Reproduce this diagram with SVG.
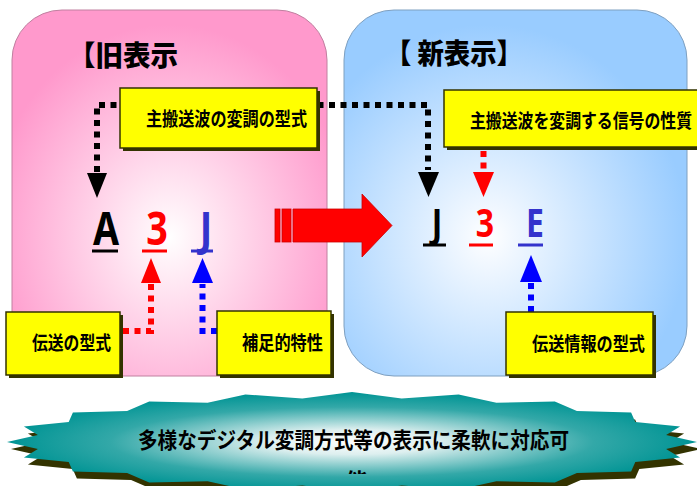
<svg xmlns="http://www.w3.org/2000/svg" width="697" height="486" viewBox="0 0 697 486">
<defs>
<radialGradient id="gPink" cx="0.5" cy="0.62" r="0.58">
<stop offset="0" stop-color="#FFFFFF"/>
<stop offset="0.12" stop-color="#FFF2F8"/>
<stop offset="1" stop-color="#FF99CC"/>
</radialGradient>
<radialGradient id="gBlue" cx="0.42" cy="0.62" r="0.58">
<stop offset="0" stop-color="#FFFFFF"/>
<stop offset="0.12" stop-color="#F2F8FF"/>
<stop offset="1" stop-color="#99CCFF"/>
</radialGradient>
<radialGradient id="gTeal" cx="0.5" cy="0.5" r="0.5">
<stop offset="0" stop-color="#FFFFFF"/>
<stop offset="0.25" stop-color="#DDEFEF"/>
<stop offset="0.7" stop-color="#33A8A8"/>
<stop offset="1" stop-color="#009494"/>
</radialGradient>
<clipPath id="clipNo"><rect x="0" y="0" width="697" height="474"/></clipPath>
<style>
.box{fill:#FFFF00;stroke:#333300;stroke-width:1.5}
.shadow{fill:#333300}
.lbl{font-family:"Noto Sans CJK JP","Noto Sans CJK SC",sans-serif;font-weight:700;font-size:19px;fill:#000}
.title{font-family:"Noto Sans CJK JP","Noto Sans CJK SC",sans-serif;font-weight:900;font-size:28px;fill:#000}
.big{font-family:"Noto Sans","DejaVu Sans",sans-serif;font-weight:700;text-anchor:middle}
.dot{fill:none;stroke-width:6;stroke-dasharray:6 5.5}
</style>
</defs>

<g id="panel-old">
<rect x="12" y="10" width="315" height="366" rx="50" ry="50" fill="url(#gPink)" stroke="#C080A0" stroke-width="1"/>
<text class="title" x="68" y="66" textLength="110" lengthAdjust="spacingAndGlyphs">【旧表示</text>
</g>

<g id="panel-new">
<rect x="344" y="10" width="343" height="366" rx="50" ry="50" fill="url(#gBlue)" stroke="#7FA0C0" stroke-width="1"/>
<text class="title" x="385" y="64" textLength="138" lengthAdjust="spacingAndGlyphs">【 新表示】</text>
</g>

<g id="big-arrow">
<rect x="275" y="209" width="5" height="33" fill="#FF0000" stroke="#CC0000" stroke-width="0.8"/>
<rect x="282" y="209" width="9" height="33" fill="#FF0000" stroke="#CC0000" stroke-width="0.8"/>
<polygon points="293,209 362,209 362,194 392,225.5 362,257 362,242 293,242" fill="#FF0000" stroke="#CC0000" stroke-width="0.8"/>
</g>

<g id="connectors">
<path class="dot" d="M97,172 V105 H428 V170" stroke="#000"/>
<polygon points="87,173 107,173 97,198" fill="#000"/>
<polygon points="418,172 439,172 428.5,197" fill="#000"/>
<path class="dot" d="M483.5,151 V171" stroke="#FF0000"/>
<polygon points="473,172 494,172 483.5,197" fill="#FF0000"/>
<path class="dot" d="M123,331 H151 V284" stroke="#FF0000"/>
<polygon points="141,283 161,283 151,258" fill="#FF0000"/>
<path class="dot" d="M217,331 H202.5 V284" stroke="#0000FF"/>
<polygon points="192,283 213,283 202.5,258" fill="#0000FF"/>
<path class="dot" d="M531,312 V283" stroke="#0000FF"/>
<polygon points="520,282 542,282 531,255" fill="#0000FF"/>
</g>

<g id="old-code">
<text class="big" transform="translate(106,245) scale(0.82,1)" font-size="46" fill="#000">A</text>
<rect x="92" y="249.5" width="26" height="3" fill="#000"/>
<text class="big" transform="translate(157,245) scale(0.82,1)" font-size="46" fill="#FF0000">3</text>
<rect x="142" y="249.5" width="25" height="3" fill="#FF0000"/>
<text class="big" transform="translate(206,245) scale(0.82,1)" font-size="46" fill="#3333CC">J</text>
<rect x="191" y="249.5" width="22" height="3" fill="#3333CC"/>
</g>

<g id="new-code">
<text class="big" transform="translate(437,237) scale(0.82,1)" font-size="39" fill="#000">J</text>
<rect x="423" y="243.5" width="23" height="3" fill="#000"/>
<text class="big" transform="translate(485,237) scale(0.82,1)" font-size="39" fill="#FF0000">3</text>
<rect x="469" y="243.5" width="24" height="3" fill="#FF0000"/>
<text class="big" transform="translate(535,237) scale(0.82,1)" font-size="39" fill="#3333CC">E</text>
<rect x="518" y="243.5" width="25" height="3" fill="#3333CC"/>
</g>

<g id="box-main-carrier">
<rect class="shadow" x="123" y="91" width="197" height="60"/>
<rect class="box" x="120" y="88" width="197" height="60"/>
<text class="lbl" x="146" y="126" textLength="161" lengthAdjust="spacingAndGlyphs">主搬送波の変調の型式</text>
</g>

<g id="box-signal-nature">
<rect class="shadow" x="447" y="93" width="260" height="57"/>
<rect class="box" x="444" y="90" width="260" height="57"/>
<text class="lbl" x="470" y="128" textLength="222" lengthAdjust="spacingAndGlyphs">主搬送波を変調する信号の性質</text>
</g>

<g id="box-transmission">
<rect class="shadow" x="9" y="315" width="114" height="63"/>
<rect class="box" x="6" y="312" width="114" height="63"/>
<text class="lbl" x="32" y="350" textLength="79" lengthAdjust="spacingAndGlyphs">伝送の型式</text>
</g>

<g id="box-supplementary">
<rect class="shadow" x="220" y="314" width="114" height="64"/>
<rect class="box" x="217" y="311" width="114" height="64"/>
<text class="lbl" x="242" y="350" textLength="81" lengthAdjust="spacingAndGlyphs">補足的特性</text>
</g>

<g id="box-info">
<rect class="shadow" x="509" y="315" width="147" height="63"/>
<rect class="box" x="506" y="312" width="147" height="63"/>
<text class="lbl" x="532" y="351" textLength="113" lengthAdjust="spacingAndGlyphs">伝送情報の型式</text>
</g>

<g id="starburst">
<polygon transform="translate(4,7)" fill="#333300" points="697,442 666.1,435.1 680.1,426.5 635.3,422 631.1,412.6 576.9,410.9 554.8,401.5 496.4,402.8 458.6,394.4 401.7,398.5 352,392 302.3,398.5 245.4,394.4 207.6,402.8 149.2,401.5 127.1,410.9 72.9,412.6 68.7,422 23.9,426.5 37.9,435.1 7,442 37.9,448.9 23.9,457.5 68.7,462 72.9,471.4 127.1,473.1 149.2,482.5 207.6,481.2 245.4,489.6 302.3,485.5 352,492 401.7,485.5 458.6,489.6 496.4,481.2 554.8,482.5 576.9,473.1 631.1,471.4 635.3,462 680.1,457.5 666.1,448.9"/>
<polygon fill="url(#gTeal)" points="697,442 666.1,435.1 680.1,426.5 635.3,422 631.1,412.6 576.9,410.9 554.8,401.5 496.4,402.8 458.6,394.4 401.7,398.5 352,392 302.3,398.5 245.4,394.4 207.6,402.8 149.2,401.5 127.1,410.9 72.9,412.6 68.7,422 23.9,426.5 37.9,435.1 7,442 37.9,448.9 23.9,457.5 68.7,462 72.9,471.4 127.1,473.1 149.2,482.5 207.6,481.2 245.4,489.6 302.3,485.5 352,492 401.7,485.5 458.6,489.6 496.4,481.2 554.8,482.5 576.9,473.1 631.1,471.4 635.3,462 680.1,457.5 666.1,448.9"/>
<text class="lbl" x="138" y="448" textLength="431" lengthAdjust="spacingAndGlyphs" style="font-size:22px">多様なデジタル変調方式等の表示に柔軟に対応可</text>
<g clip-path="url(#clipNo)">
<text class="lbl" x="346" y="489" style="font-size:22px">能</text>
</g>
</g>
</svg>
